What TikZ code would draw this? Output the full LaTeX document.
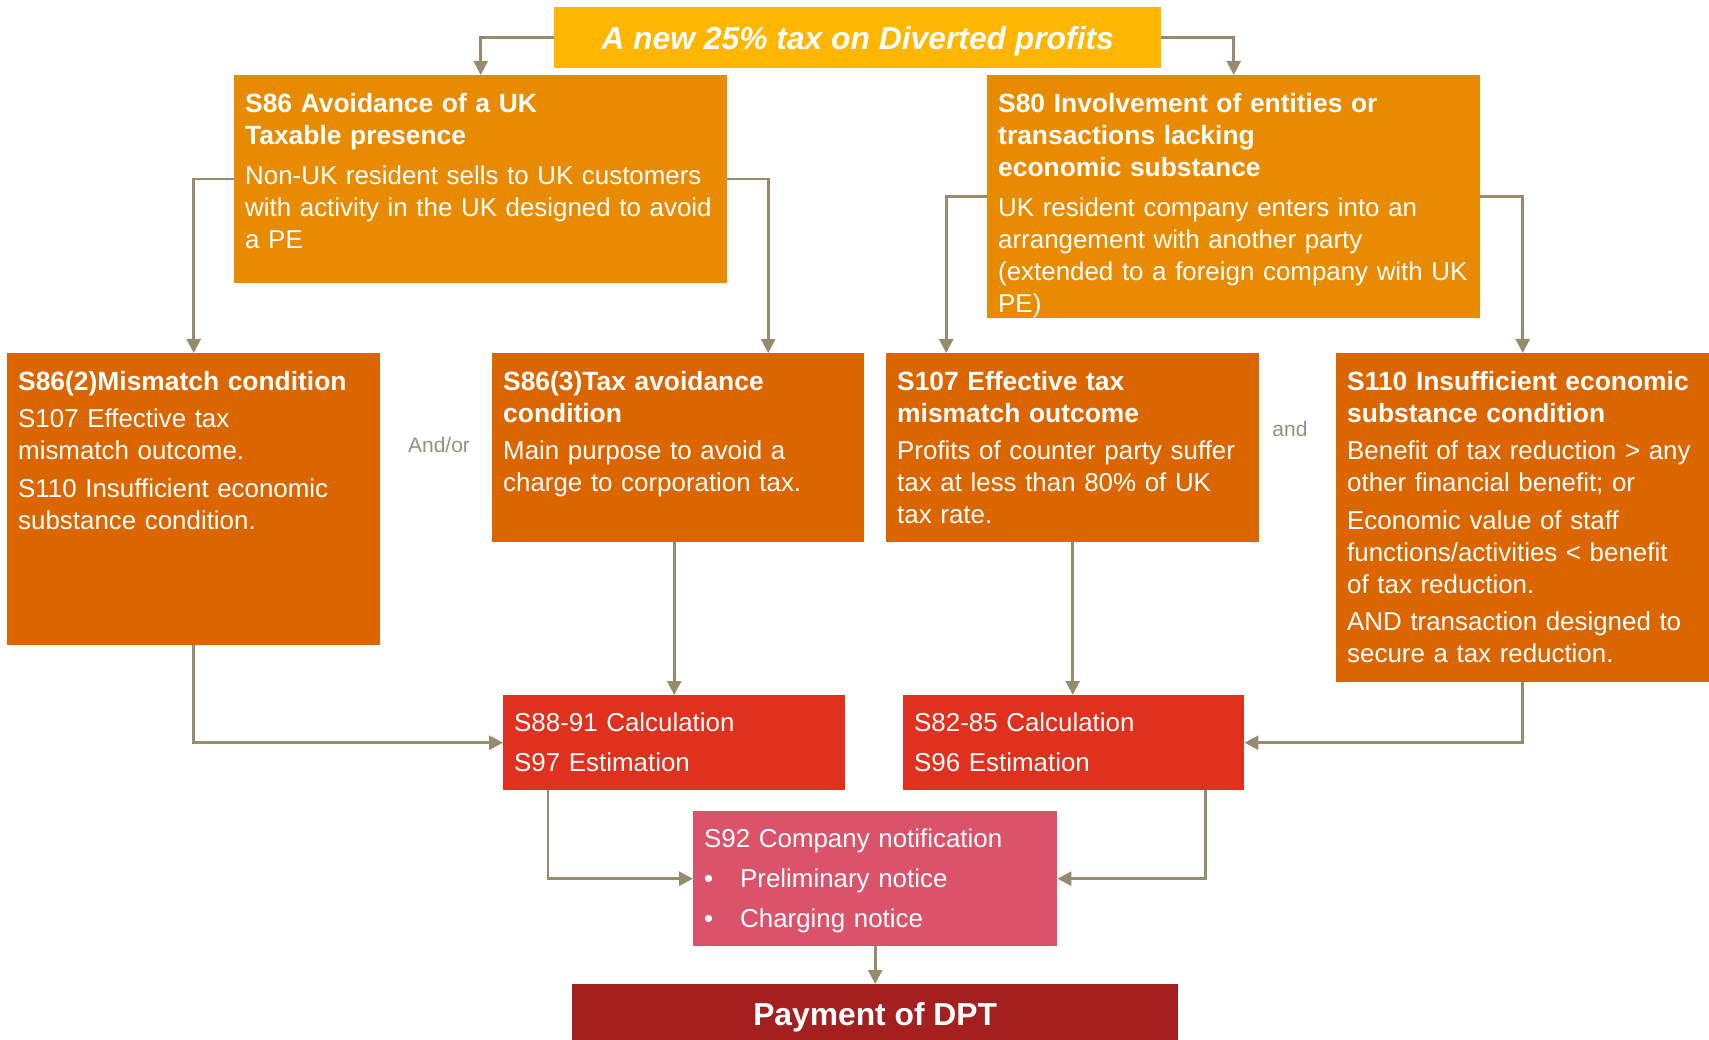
\documentclass[tikz,border=0pt]{standalone}
\usepackage{fontspec}
\setmainfont{Liberation Sans}
\usepackage{xcolor}
\usetikzlibrary{calc,arrows.meta}

\definecolor{dptyellow}{HTML}{FFB600}
\definecolor{dptorange}{HTML}{E98B00}
\definecolor{dptdark}{HTML}{DB6600}
\definecolor{dptred}{HTML}{E0301E}
\definecolor{dptrose}{HTML}{DB536A}
\definecolor{dptwine}{HTML}{A31F20}
\definecolor{dptline}{HTML}{968C6D}
\definecolor{dptgray}{HTML}{948F80}

\newcommand{\dpthead}{\fontsize{26.4}{32}\selectfont\bfseries}

\begin{document}
\begin{tikzpicture}[x=1pt,y=-1pt,
    box/.style={draw=none,inner sep=0,anchor=north west},
    txt/.style={anchor=north west,inner sep=0,text=white,align=left,
      text width=#1,font=\fontsize{25.9}{32}\selectfont},
    bigtxt/.style={text=white,inner sep=0,font=\fontsize{31.8}{36}\selectfont\bfseries},
    arr/.style={draw=dptline,line width=2.6pt,
      -{Triangle[length=14pt,width=14pt]}},
    andlbl/.style={text=dptgray,font=\fontsize{21}{25}\selectfont}]
  \useasboundingbox (0,0) rectangle (1709,1040);

  % top
  \node[box,fill=dptyellow,minimum width=607,minimum height=61] (title) at (554,7) {};
  \node[bigtxt,font=\fontsize{31.8}{36}\selectfont\bfseries\itshape] (titlet)
    at ([yshift=-4pt]title.center) {A new 25\% tax on Diverted profits};

  % first row
  \node[box,fill=dptorange,minimum width=493,minimum height=208] (s86) at (234,75) {};
  \node[txt=482] (s86t) at ($(s86.north west)+(11,18)$)
    {{\dpthead S86 Avoidance of a UK\\Taxable presence}\\[8pt]
     Non-UK resident sells to UK customers\\
     with activity in the UK designed to avoid\\
     a PE};

  \node[box,fill=dptorange,minimum width=493,minimum height=243] (s80) at (987,75) {};
  \node[txt=482] (s80t) at ($(s80.north west)+(11,18)$)
    {{\dpthead S80 Involvement of entities or\\transactions lacking\\economic substance}\\[8pt]
     UK resident company enters into an\\
     arrangement with another party\\
     (extended to a foreign company with UK\\
     PE)};

  % second row
  \node[box,fill=dptdark,minimum width=373,minimum height=292] (s862) at (7,353) {};
  \node[txt=362] (s862t) at ($(s862.north west)+(11,18)$)
    {{\dpthead S86(2)Mismatch condition}\\[5.5pt]
     S107 Effective tax\\
     mismatch outcome.\\[5.5pt]
     S110 Insufficient economic\\
     substance condition.};

  \node[box,fill=dptdark,minimum width=372,minimum height=189] (s863) at (492,353) {};
  \node[txt=361] (s863t) at ($(s863.north west)+(11,18)$)
    {{\dpthead S86(3)Tax avoidance\\condition}\\[5.5pt]
     Main purpose to avoid a\\
     charge to corporation tax.};

  \node[box,fill=dptdark,minimum width=373,minimum height=189] (s107) at (886,353) {};
  \node[txt=362] (s107t) at ($(s107.north west)+(11,18)$)
    {{\dpthead S107 Effective tax\\mismatch outcome}\\[5.5pt]
     Profits of counter party suffer\\
     tax at less than 80\% of UK\\
     tax rate.};

  \node[box,fill=dptdark,minimum width=373,minimum height=329] (s110) at (1336,353) {};
  \node[txt=362] (s110t) at ($(s110.north west)+(11,18)$)
    {{\dpthead S110 Insufficient economic\\substance condition}\\[5.5pt]
     Benefit of tax reduction > any\\
     other financial benefit; or\\[5.5pt]
     Economic value of staff\\
     functions/activities < benefit\\
     of tax reduction.\\[5.5pt]
     AND transaction designed to\\
     secure a tax reduction.};

  \node[andlbl] (andor) at (439,445) {And/or};
  \node[andlbl] (and) at (1290,429) {and};

  % calculation
  \node[box,fill=dptred,minimum width=342,minimum height=95] (calcA) at (503,695) {};
  \node[txt=330] (calcAt) at ($(calcA.north west)+(11,18)$)
    {S88-91 Calculation\\[8pt]
     S97 Estimation};

  \node[box,fill=dptred,minimum width=341,minimum height=95] (calcB) at (903,695) {};
  \node[txt=330] (calcBt) at ($(calcB.north west)+(11,18)$)
    {S82-85 Calculation\\[8pt]
     S96 Estimation};

  % notification and payment
  \node[box,fill=dptrose,minimum width=364,minimum height=135] (notif) at (693,811) {};
  \node[txt=352] (notift) at ($(notif.north west)+(11,18)$)
    {S92 Company notification\\[8pt]
     \makebox[36pt][l]{\textbullet}Preliminary notice\\[8pt]
     \makebox[36pt][l]{\textbullet}Charging notice};

  \node[box,fill=dptwine,minimum width=606,minimum height=62] (pay) at (572,984) {};
  \node[bigtxt] (payt) at ([yshift=-2pt]pay.center) {Payment of DPT};

  % connectors
  \draw[arr] (title.west) -| (s86.north);
  \draw[arr] (title.east) -| (s80.north);
  \draw[arr] (s86.west) -| (s862.north);
  \draw[arr] (s86.east) -| ([xshift=90pt]s863.north);
  \draw[arr] (s80.west) -| ([xshift=-126.5pt]s107.north);
  \draw[arr] (s80.east) -| (s110.north);
  \draw[arr] (calcA.north |- s863.south) -- (calcA.north);
  \draw[arr] (s107.south) -- (s107.south |- calcB.north);
  \draw[arr] (s862.south) |- (calcA.west);
  \draw[arr] (s110.south) |- (calcB.east);
  \draw[arr] ([xshift=45pt]calcA.south west) |- (notif.west);
  \draw[arr] ([xshift=-39pt]calcB.south east) |- (notif.east);
  \draw[arr] (notif.south) -- (pay.north);
\end{tikzpicture}
\end{document}
